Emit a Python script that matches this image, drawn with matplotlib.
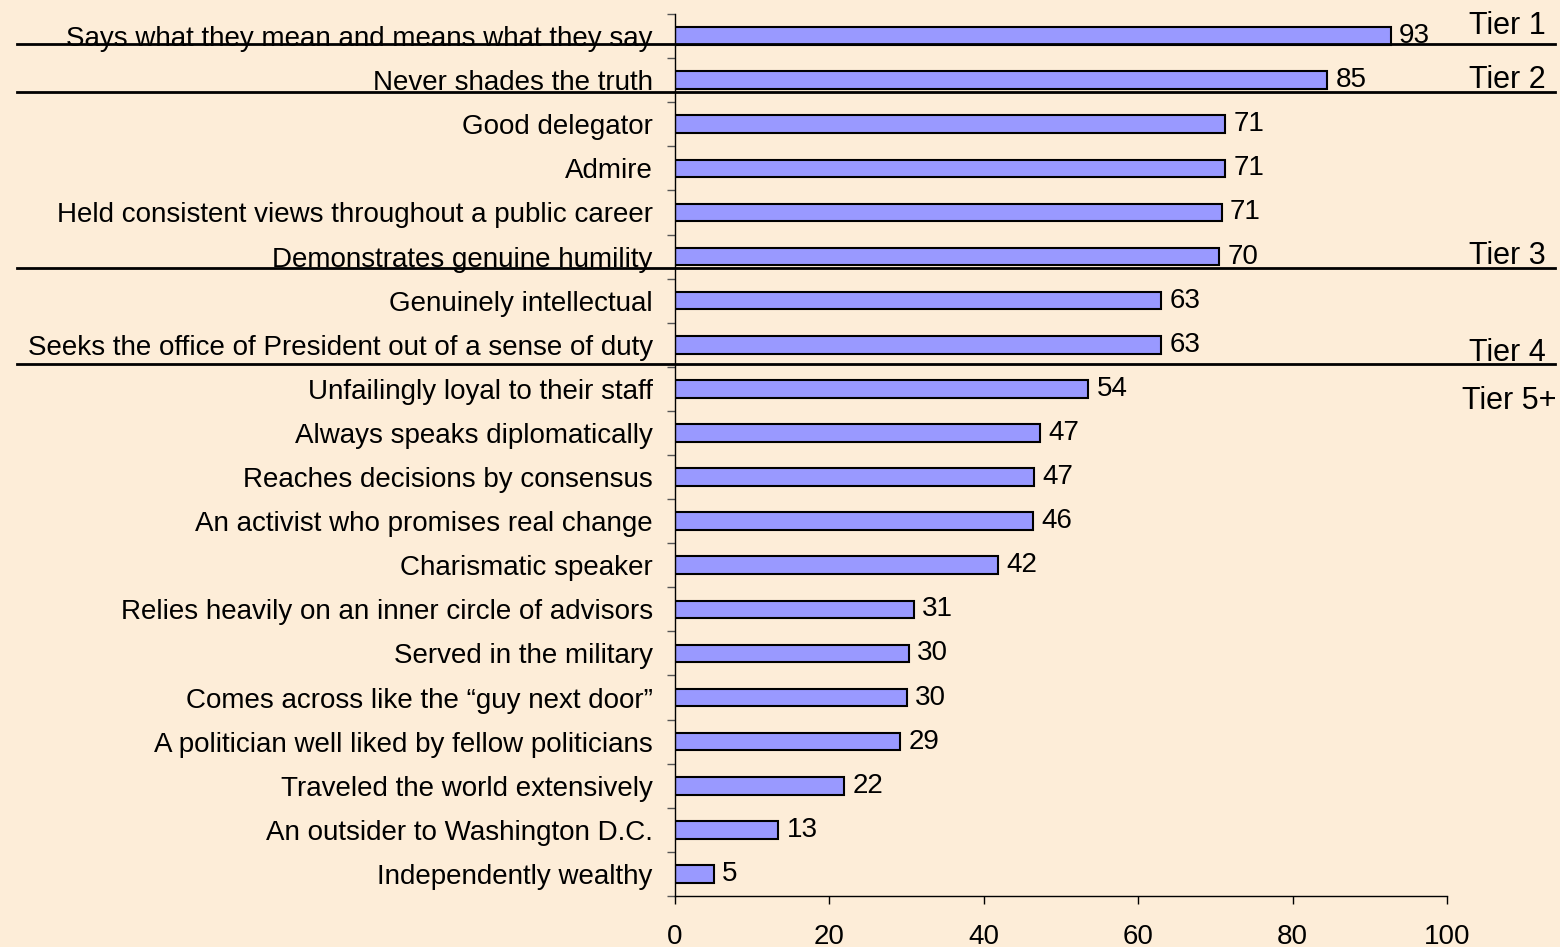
import numpy as np
import matplotlib.pyplot as plt
import matplotlib.transforms as mtransforms
from matplotlib.lines import Line2D

plt.rcParams['font.family'] = ['Liberation Sans', 'DejaVu Sans']

labels = [
    "Says what they mean and means what they say",
    "Never shades the truth",
    "Good delegator",
    "Admire",
    "Held consistent views throughout a public career",
    "Demonstrates genuine humility",
    "Genuinely intellectual",
    "Seeks the office of President out of a sense of duty",
    "Unfailingly loyal to their staff",
    "Always speaks diplomatically",
    "Reaches decisions by consensus",
    "An activist who promises real change",
    "Charismatic speaker",
    "Relies heavily on an inner circle of advisors",
    "Served in the military",
    "Comes across like the \u201cguy next door\u201d",
    "A politician well liked by fellow politicians",
    "Traveled the world extensively",
    "An outsider to Washington D.C.",
    "Independently wealthy",
]
values = [93, 85, 71, 71, 71, 70, 63, 63, 54, 47, 47, 46, 42, 31, 30, 30, 29, 22, 13, 5]
# bar values as drawn (slightly differ from the rounded labels)
bar_len = [92.7, 84.5, 71.3, 71.3, 70.8, 70.5, 63.0, 63.0, 53.5, 47.3, 46.5, 46.4, 41.8, 30.9, 30.3, 30.0, 29.2, 21.9, 13.4, 5.0]

tier_names = ["Tier 1", "Tier 2", "Tier 3", "Tier 4", "Tier 5+"]
tier_label_y = [-0.23, 1.0, 4.99, 7.19, 8.28]
tier_line_y = [0.18, 1.27, 5.26, 7.44]

bg = '#FDEDD8'
fig = plt.figure(figsize=(15.6, 9.47), dpi=100, facecolor=bg)
ax = fig.add_axes([0.4327, 0.0539, 0.4949, 0.9313])
ax.set_facecolor(bg)

y = np.arange(len(labels))
ax.barh(y, bar_len, height=0.4, color='#9999FF', edgecolor='black', linewidth=1.5)
for yi, (b, v) in enumerate(zip(bar_len, values)):
    ax.annotate(str(v), (b, yi), xytext=(6, 0), textcoords='offset points',
                va='center', ha='left', fontsize=20)

ax.set_xlim(0, 100)
ax.set_ylim(len(labels) - 0.5, -0.5)
ax.set_xticks(np.arange(0, 101, 20))
ax.tick_params(axis='x', length=6, width=1, labelsize=20, pad=14, direction='out')

ax.set_yticks(np.arange(-0.5, len(labels), 1))
ax.set_yticklabels([])
ax.set_yticks(y, minor=True)
ax.set_yticklabels(labels, minor=True)
ax.tick_params(axis='y', which='major', length=6, width=1, color='#555555', direction='out')
ax.tick_params(axis='y', which='minor', length=0, labelsize=20, pad=16)

for s in ['top', 'right']:
    ax.spines[s].set_visible(False)
for s in ['left', 'bottom']:
    ax.spines[s].set_linewidth(1)

trans = mtransforms.blended_transform_factory(fig.transFigure, ax.transData)
for ly in tier_line_y:
    fig.add_artist(Line2D([0.011, 0.997], [ly, ly], transform=trans, color='black', linewidth=2))
for name, ty in zip(tier_names, tier_label_y):
    xr = 0.998 if name == "Tier 5+" else 0.991
    fig.text(xr, ty, name, transform=trans, ha='right', va='center', fontsize=22)

fig.savefig('out.png', dpi=100, facecolor=bg)
